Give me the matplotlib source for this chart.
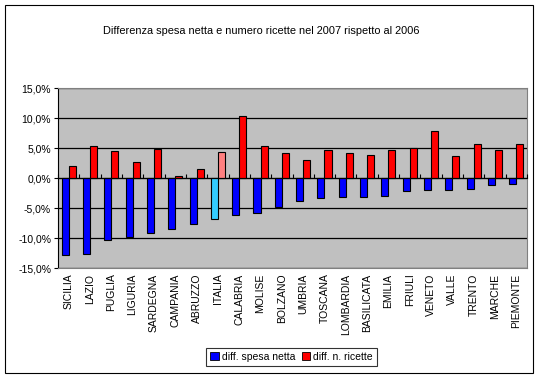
import numpy as np
import matplotlib.pyplot as plt
from matplotlib.patches import Rectangle
from matplotlib.ticker import FuncFormatter, NullFormatter

# data (percent)
regioni = ["SICILIA", "LAZIO", "PUGLIA", "LIGURIA", "SARDEGNA", "CAMPANIA",
           "ABRUZZO", "ITALIA", "CALABRIA", "MOLISE", "BOLZANO", "UMBRIA",
           "TOSCANA", "LOMBARDIA", "BASILICATA", "EMILIA", "FRIULI", "VENETO",
           "VALLE", "TRENTO", "MARCHE", "PIEMONTE"]
spesa_netta = [-12.8, -12.7, -10.4, -9.9, -9.2, -8.5, -7.6, -6.9, -6.2, -5.9,
               -4.9, -3.9, -3.3, -3.2, -3.2, -3.0, -2.2, -2.0, -2.0, -1.8,
               -1.2, -1.0]
n_ricette = [2.0, 5.4, 4.5, 2.7, 4.9, 0.3, 1.5, 4.3, 10.4, 5.4,
             4.2, 3.0, 4.7, 4.2, 3.8, 4.7, 5.0, 7.9, 3.7, 5.7,
             4.7, 5.7]

plt.rcParams['font.family'] = ['Liberation Sans', 'DejaVu Sans']

W, H = 540, 379
fig = plt.figure(figsize=(W / 100, H / 100), dpi=100)
ax = fig.add_axes([58 / W, 1 - 268 / H, (527 - 58) / W, (268 - 88) / H])
ax.set_facecolor("#C0C0C0")

x = np.arange(len(regioni))
w = 0.33
col_b = ["#33CCFF" if r == "ITALIA" else "#0000FF" for r in regioni]
col_r = ["#FF8080" if r == "ITALIA" else "#FF0000" for r in regioni]
ax.bar(x - w / 2, spesa_netta, w, color=col_b, edgecolor="black", linewidth=0.8,
       label="diff. spesa netta", zorder=3)
ax.bar(x + w / 2, n_ricette, w, color=col_r, edgecolor="black", linewidth=0.8,
       label="diff. n. ricette", zorder=3)

ax.set_ylim(-15, 15)
ax.set_xlim(-0.5, len(regioni) - 0.5)
ax.set_yticks(np.arange(-15, 16, 5))
ax.yaxis.set_major_formatter(FuncFormatter(lambda v, p: f"{v:.1f}%".replace(".", ",")))
ax.grid(axis="y", color="black", linewidth=0.9, zorder=1)
ax.tick_params(axis="y", labelsize=7.5, length=3, direction="out", pad=2)

ax.set_xticks(x)
ax.set_xticklabels(regioni, rotation=90, fontsize=7.5)
ax.tick_params(axis="x", length=0, pad=4)

for s in ["top", "right", "bottom"]:
    ax.spines[s].set_color("#808080")
ax.spines["left"].set_color("black")

# category axis crossing at zero with ticks between categories
sec = ax.secondary_xaxis(0.5)
sec.set_xticks(np.arange(-0.5, len(regioni), 1))
sec.xaxis.set_major_formatter(NullFormatter())
sec.tick_params(axis="x", length=3, direction="out", width=0.8)
sec.spines["bottom"].set_linewidth(0.9)
sec.set_zorder(4)

fig.text(0.484, 1 - 31 / H, "Differenza spesa netta e numero ricette nel 2007 rispetto al 2006",
         ha="center", va="center", fontsize=7.9)

h, l = ax.get_legend_handles_labels()
h = [plt.Rectangle((0, 0), 1, 1, fc=c, ec="black", lw=0.6) for c in ["#0000FF", "#FF0000"]]
leg = fig.legend(h, l, loc="center", bbox_to_anchor=(291.5 / W, 1 - 357 / H), ncol=2,
                 fontsize=7.5, frameon=True, fancybox=False, edgecolor="black",
                 handlelength=0.8, handleheight=0.8, handletextpad=0.3,
                 columnspacing=0.6, borderpad=0.4, borderaxespad=0)
leg.get_frame().set_linewidth(0.8)

fig.patches.append(Rectangle((5 / W, 1 - 373 / H), 528 / W, 368 / H, transform=fig.transFigure,
                             fill=False, edgecolor="black", linewidth=0.8))

fig.savefig("out.png", dpi=100)
